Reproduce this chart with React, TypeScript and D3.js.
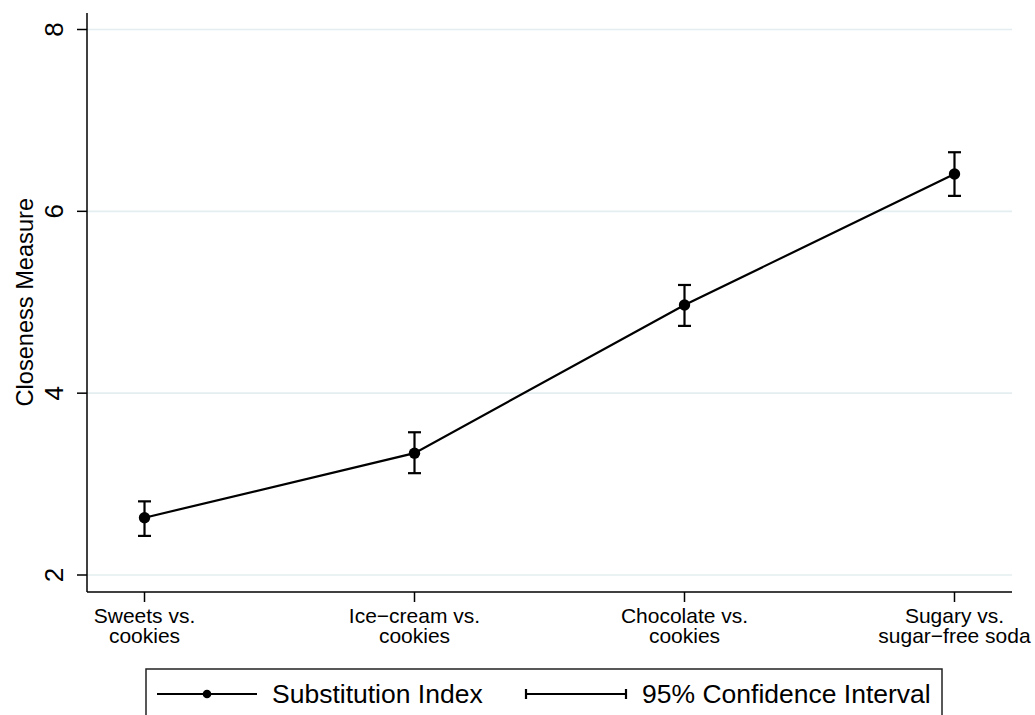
import React from "react";
import * as d3 from "d3";

// Category labels (two lines each) and the estimates with their 95% bounds
const categories = ["sweets", "icecream", "chocolate", "soda"];
const labelLine1 = ["Sweets vs.", "Ice\u2212cream vs.", "Chocolate vs.", "Sugary vs."];
const labelLine2 = ["cookies", "cookies", "cookies", "sugar\u2212free soda"];
const index = [2.63, 3.34, 4.97, 6.41];
const ciLow = [2.43, 3.12, 4.74, 6.17];
const ciHigh = [2.81, 3.57, 5.19, 6.65];
const yTicks = [2, 4, 6, 8];

const W = 1035;
const H = 715;
const FONT = "'Liberation Sans', Arial, Helvetica, sans-serif";

export default function App() {
  const left = 87;
  const right = 1012;
  const top = 13;
  const bottom = 592;

  const x = d3.scalePoint<string>().domain(categories).range([left, right]).padding(0.213);
  const y = d3.scaleLinear().domain([2, 8]).range([575, 29.5]);

  const line = d3
    .line<number>()
    .x((_, i) => x(categories[i]) as number)
    .y((d) => y(d));

  const capHalf = 6.5;

  return (
    <svg
      width={W}
      height={H}
      style={{ position: "absolute", left: 0, top: 0, background: "#fff" }}
      fontFamily={FONT}
    >
      <rect x={0} y={0} width={W} height={H} fill="#fff" />

      {/* horizontal gridlines */}
      {yTicks.map((t) => (
        <line key={"g" + t} x1={left} x2={right} y1={y(t)} y2={y(t)} stroke="#e4eef0" strokeWidth={1.6} />
      ))}

      {/* y axis */}
      <line x1={left} x2={left} y1={top} y2={bottom} stroke="#000" strokeWidth={1.5} />
      {yTicks.map((t) => (
        <g key={"yt" + t}>
          <line x1={left - 10} x2={left} y1={y(t)} y2={y(t)} stroke="#000" strokeWidth={1.5} />
          <text
            transform={`translate(63,${y(t)}) rotate(-90)`}
            textAnchor="middle"
            fontSize={26}
            fill="#000"
          >
            {t}
          </text>
        </g>
      ))}
      <text
        transform={`translate(33,${(y(2) + y(8)) / 2}) rotate(-90)`}
        textAnchor="middle"
        fontSize={23.6}
        fill="#000"
      >
        Closeness Measure
      </text>

      {/* x axis */}
      <line x1={left} x2={right} y1={bottom} y2={bottom} stroke="#000" strokeWidth={1.5} />
      {categories.map((c, i) => (
        <g key={"xt" + c}>
          <line x1={x(c)} x2={x(c)} y1={bottom} y2={bottom + 10} stroke="#000" strokeWidth={1.5} />
          <text x={x(c)} y={623} textAnchor="middle" fontSize={21} fill="#000">
            {labelLine1[i]}
          </text>
          <text x={x(c)} y={643} textAnchor="middle" fontSize={21} fill="#000">
            {labelLine2[i]}
          </text>
        </g>
      ))}

      {/* connecting line */}
      <path d={line(index) ?? ""} fill="none" stroke="#000" strokeWidth={2.2} />

      {/* confidence intervals */}
      {categories.map((c, i) => {
        const cx = x(c) as number;
        return (
          <g key={"ci" + c} stroke="#000" strokeWidth={2.2}>
            <line x1={cx} x2={cx} y1={y(ciLow[i])} y2={y(ciHigh[i])} />
            <line x1={cx - capHalf} x2={cx + capHalf} y1={y(ciLow[i])} y2={y(ciLow[i])} />
            <line x1={cx - capHalf} x2={cx + capHalf} y1={y(ciHigh[i])} y2={y(ciHigh[i])} />
          </g>
        );
      })}

      {/* point estimates */}
      {categories.map((c, i) => (
        <circle key={"p" + c} cx={x(c)} cy={y(index[i])} r={5.7} fill="#000" />
      ))}

      {/* legend */}
      <rect x={146} y={669} width={796} height={70} fill="#fff" stroke="#222" strokeWidth={1.5} />
      <line x1={157} x2={257} y1={694} y2={694} stroke="#000" strokeWidth={2.2} />
      <circle cx={207} cy={694} r={4.3} fill="#000" />
      <text x={272} y={703} fontSize={26.5} fill="#000">
        Substitution Index
      </text>
      <g stroke="#000" strokeWidth={2.2}>
        <line x1={526} x2={626} y1={694} y2={694} />
        <line x1={526} x2={526} y1={689} y2={699} />
        <line x1={626} x2={626} y1={689} y2={699} />
      </g>
      <text x={642} y={703} fontSize={26.5} fill="#000">
        95% Confidence Interval
      </text>
    </svg>
  );
}
